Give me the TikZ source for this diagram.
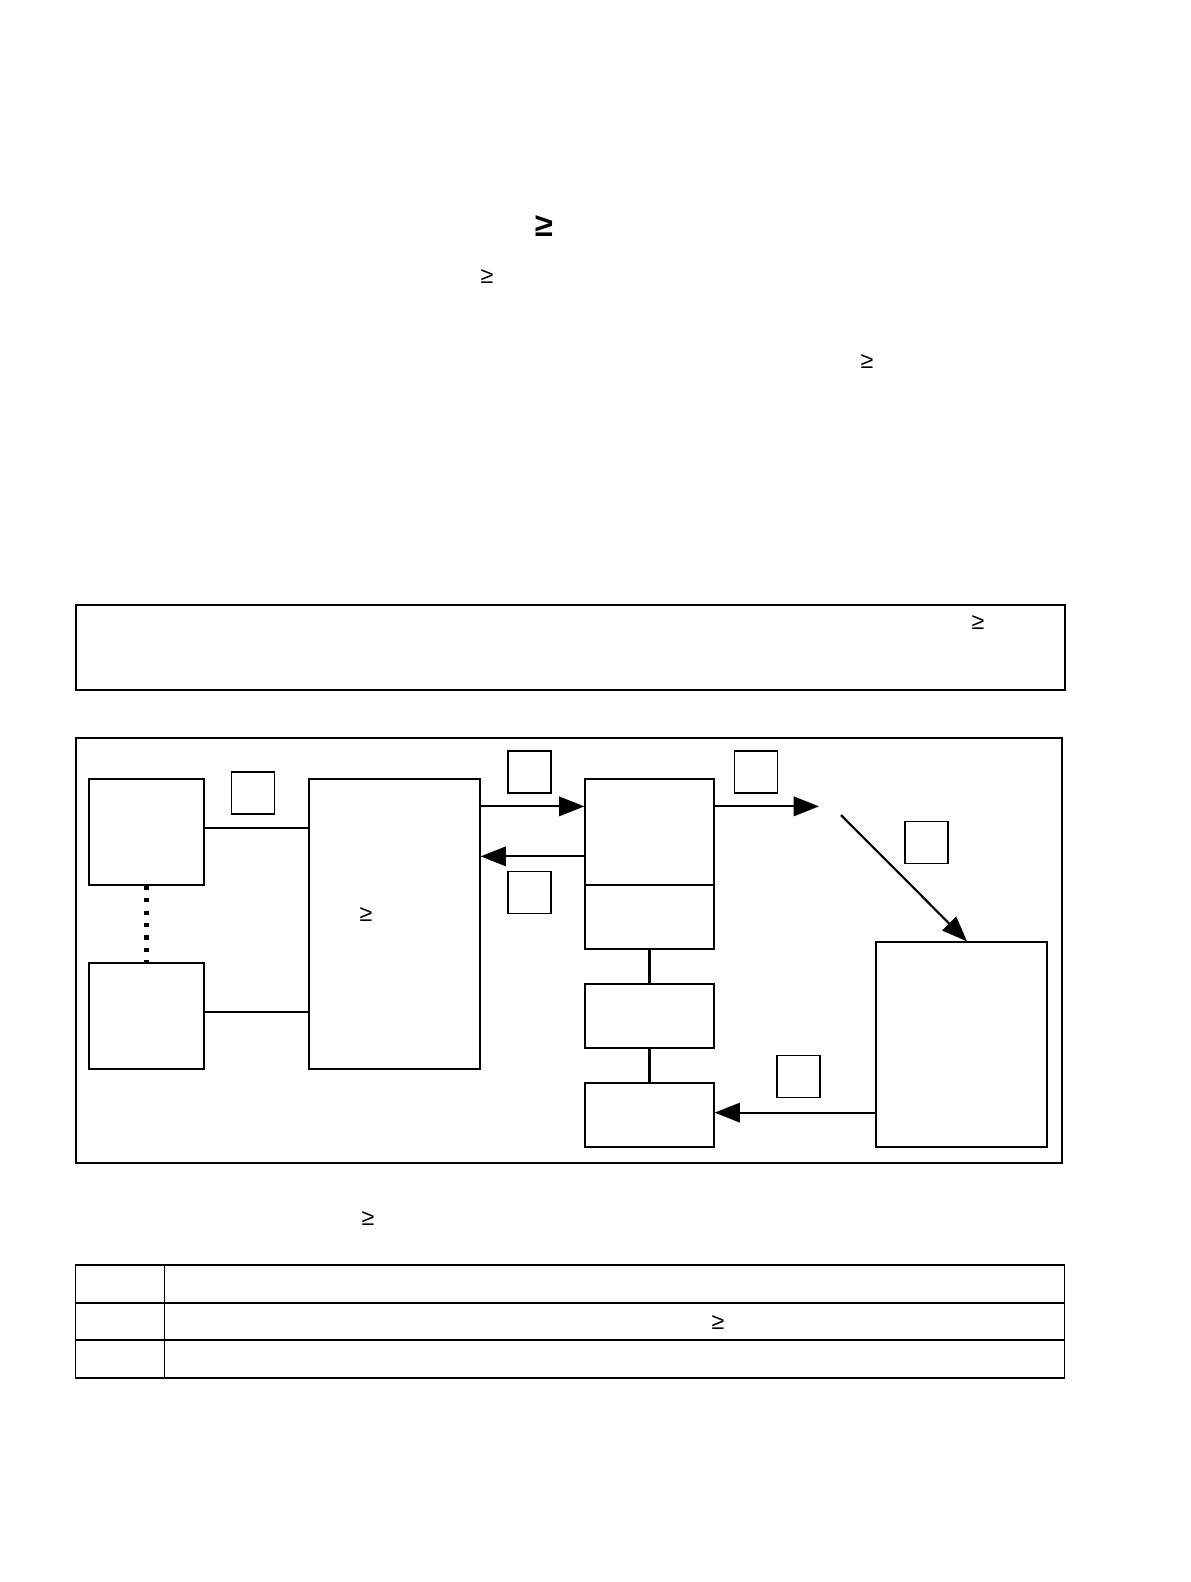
\documentclass[tikz,border=0pt]{standalone}
\usepackage{fontspec}
\setmainfont{Liberation Sans}
\usetikzlibrary{arrows.meta,positioning,calc}
\def\unitpx{0.5143bp}

\begin{document}
\begin{tikzpicture}[
      x=0.5143bp,y=-0.5143bp,
      box/.style={draw,line width=0.65bp,inner sep=0pt},
      blk/.style={box,minimum width=115*\unitpx,minimum height=106*\unitpx},
      unit/.style={box,minimum width=129*\unitpx},
      tag/.style={box,minimum width=43*\unitpx,minimum height=42*\unitpx},
      link/.style={line width=1.1bp},
      arr/.style={-{Triangle[length=13bp,width=10bp]},line width=1.1bp},
      sym/.style={font=\fontsize{12}{14}\selectfont,inner sep=0pt}
    ]
    \useasboundingbox (0,0) rectangle (1190,1582);
    % heading symbols
    \node[sym,font=\fontsize{17}{20}\selectfont\bfseries] (h0) at (544,226) {≥};
    \node[sym] (h1) at (487,277) {≥};
    \node[sym] (h2) at (867,362) {≥};
    % note frame
    \node[box,minimum width=989*\unitpx,minimum height=85*\unitpx] (note) at (570.5,647.5) {};
    \node[sym] (n1) at (978,623) {≥};
    % figure frame
    \node[box,minimum width=986*\unitpx,minimum height=425*\unitpx] (frame) at (569,950.5) {};
    \node[blk] (A) at (146.5,832) {};
    \node[blk] (B) at (146.5,1016) {};
    \node[box,minimum width=171*\unitpx,minimum height=290*\unitpx] (C) at (394.5,924) {};
    \node[sym] (c1) at (366,915) {≥};
    \node[unit,minimum height=106*\unitpx] (D) at (649.5,832) {};
    \node[unit,minimum height=64*\unitpx] (D2) at (649.5,917) {};
    \node[unit,minimum height=64*\unitpx] (E) at (649.5,1016) {};
    \node[unit,minimum height=64*\unitpx] (F) at (649.5,1115) {};
    \node[box,minimum width=171*\unitpx,minimum height=205*\unitpx] (G) at (961.5,1044.5) {};
    \node[tag] (t1) at (253,793) {};
    \node[tag] (t2) at (529.5,772) {};
    \node[tag] (t3) at (529.5,892.5) {};
    \node[tag] (t4) at (756,772) {};
    \node[tag] (t5) at (926.5,842.5) {};
    \node[tag] (t6) at (798.5,1076.5) {};
    % connectors
    \coordinate (aR) at ($(A.north east)+(0,50)$);
    \coordinate (bR) at ($(B.north east)+(0,50)$);
    \draw[link] (aR) -- (aR -| C.west);
    \draw[link] (bR) -- (bR -| C.west);
    \draw[line width=2.6bp,dash pattern=on 2.2bp off 4.2bp] (A.south) -- (B.north);
    \coordinate (cR) at ($(C.north east)+(0,28)$);
    \coordinate (dL) at ($(D.north west)+(0,78)$);
    \coordinate (dR) at ($(D.north east)+(0,28)$);
    \coordinate (dOut) at (dR -| 819,0);
    \coordinate (gIn) at (841,815);
    \coordinate (gTop) at ($(G.north)+(5.5,0)$);
    \coordinate (gL) at ($(G.south west)+(0,-35)$);
    \draw[arr] (cR) -- (cR -| D.west);
    \draw[arr] (dL) -- (dL -| C.east);
    \draw[arr] (dR) -- (dOut);
    \draw[arr] (gIn) -- (gTop);
    \draw[arr] (gL) -- (gL -| F.east);
    \draw[link] (D2.south) -- (E.north);
    \draw[link] (E.south) -- (F.north);
    % caption and table
    \node[sym] (cap) at (368,1218) {≥};
    \node[box,minimum width=89*\unitpx,minimum height=38*\unitpx] (r1a) at (120,1284) {};
    \node[box,minimum width=900*\unitpx,minimum height=38*\unitpx] (r1b) at (614.5,1284) {};
    \node[box,minimum width=89*\unitpx,minimum height=38*\unitpx] (r2a) at (120,1321.5) {};
    \node[box,minimum width=900*\unitpx,minimum height=38*\unitpx] (r2b) at (614.5,1321.5) {};
    \node[box,minimum width=89*\unitpx,minimum height=38*\unitpx] (r3a) at (120,1359) {};
    \node[box,minimum width=900*\unitpx,minimum height=38*\unitpx] (r3b) at (614.5,1359) {};
    \node[sym] (r2t) at (718,1322) {≥};
  \end{tikzpicture}
\end{document}
